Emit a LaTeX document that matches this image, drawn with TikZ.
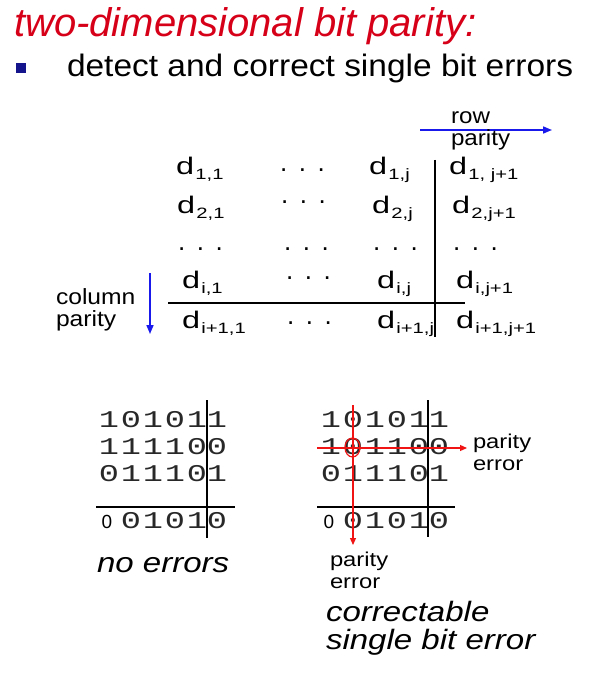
\documentclass[tikz,border=0pt]{standalone}
\usepackage{fontspec}
\setmainfont{Liberation Sans}
\newfontfamily\monof{Liberation Mono}
\usetikzlibrary{arrows.meta}

\definecolor{titlered}{RGB}{215,0,25}
\definecolor{arrowblue}{RGB}{25,25,235}
\definecolor{bulletblue}{RGB}{20,20,140}
\definecolor{errred}{RGB}{240,20,20}
\definecolor{bitgray}{RGB}{40,40,40}

\newcommand{\fs}[1]{\fontsize{#1}{#1}\selectfont}
% matrix entry d with a lowered index
\newcommand{\dsub}[1]{\scalebox{1.35}[1]{\fs{24}d\kern1pt\raisebox{-5pt}{\fs{15}#1}}}
% three spaced dots
\newcommand{\tdots}{\fs{26}.\hspace{11.5pt}.\hspace{11.5pt}.}
% one wide bit digit
\newcommand{\bx}[1]{\scalebox{1.4}[1]{#1}}
% slightly widened label text
\newcommand{\wide}[2]{\scalebox{#1}[1]{#2}}

\tikzset{
  txt/.style={anchor=base west, inner sep=0pt, outer sep=0pt},
  entry/.style={txt},
  dotgrp/.style={anchor=base west, inner sep=0pt},
  bit/.style={anchor=base, inner sep=0pt, text=bitgray, font=\monof\fs{24}},
  sansbit/.style={anchor=base, inner sep=0pt, font=\fs{19}},
  rule/.style={line width=1.6pt, black},
  blueArrow/.style={line width=1.6pt, arrowblue, -{Triangle[length=9pt,width=7pt]}},
  redArrow/.style={line width=1.2pt, errred, -{Triangle[length=7pt,width=6pt]}},
  smalllbl/.style={txt, font=\fs{20}},
  paritylbl/.style={txt, font=\fs{22}},
  caption/.style={txt, font=\fs{28}\itshape},
}

\begin{document}
\begin{tikzpicture}[x=1pt,y=-1pt]
\useasboundingbox (0,0) rectangle (613,679);

% heading and bullet
\node[txt, text=titlered, font=\fs{40}\itshape] (title) at (14,37) {two-dimensional bit parity:};
\fill[bulletblue] (16,63) rectangle (26,73);
\node[txt, font=\fs{31}] (bullet) at (67,77) {\wide{1.08}{detect and correct single bit errors}};

% general layout of data bits and parity bits
\node[entry] (d11)  at (176,175) {\dsub{1,1}};
\node[entry] (d1j)  at (369,175) {\dsub{1,j}};
\node[entry] (d1J)  at (449,175) {\dsub{1, j+1}};
\node[entry] (d21)  at (177,213) {\dsub{2,1}};
\node[entry] (d2j)  at (372,213) {\dsub{2,j}};
\node[entry] (d2J)  at (452,213) {\dsub{2,j+1}};
\node[entry] (di1)  at (182,288) {\dsub{i,1}};
\node[entry] (dij)  at (377,288) {\dsub{i,j}};
\node[entry] (diJ)  at (456,288) {\dsub{i,j+1}};
\node[entry] (dI1)  at (182,328) {\dsub{i+1,1}};
\node[entry] (dIj)  at (377,328) {\dsub{i+1,j}};
\node[entry] (dIJ)  at (456,328) {\dsub{i+1,j+1}};

\node[dotgrp] (dots1)  at (280,171.5) {\tdots};
\node[dotgrp] (dots2)  at (281,203.5) {\tdots};
\node[dotgrp] (dots3a) at (178,250.5) {\tdots};
\node[dotgrp] (dots3b) at (284,250.5) {\tdots};
\node[dotgrp] (dots3c) at (373,250.5) {\tdots};
\node[dotgrp] (dots3d) at (453,250.5) {\tdots};
\node[dotgrp] (dots4)  at (286,279.5) {\tdots};
\node[dotgrp] (dots5)  at (287,324.5) {\tdots};

\coordinate (vtop) at (435,160);
\coordinate (vbot) at (435,337);
\coordinate (hl) at (168,303);
\coordinate (hr) at (465,303);
\draw[rule] (vtop) -- (vbot);
\draw[rule] (hl) -- (hr);

% row parity arrow
\coordinate (rowA) at (420,130);
\coordinate (rowB) at (552,130);
\draw[blueArrow] (rowA) -- (rowB);
\node[paritylbl] (rowT) at (451,124) {\wide{1.1}{row}};
\node[paritylbl] (rowP) at (451,146) {\wide{1.1}{parity}};

% column parity arrow
\coordinate (colA) at (150,273);
\coordinate (colB) at (150,334);
\draw[blueArrow] (colA) -- (colB);
\node[paritylbl] (colT) at (56,304) {\wide{1.12}{column}};
\node[paritylbl] (colP) at (56,326) {\wide{1.12}{parity}};

% example without errors
\foreach \b [count=\c] in {1,0,1,0,1} \node[bit] (La-\c) at ({87+22*\c},427) {\bx{\b}};
\node[bit] (La-p) at (217,427) {\bx{1}};
\foreach \b [count=\c] in {1,1,1,1,0} \node[bit] (Lb-\c) at ({87+22*\c},454) {\bx{\b}};
\node[bit] (Lb-p) at (217,454) {\bx{0}};
\foreach \b [count=\c] in {0,1,1,1,0} \node[bit] (Lc-\c) at ({87+22*\c},481) {\bx{\b}};
\node[bit] (Lc-p) at (217,481) {\bx{1}};
\node[sansbit] (Ld-1) at (107,528) {0};
\foreach \b [count=\c from 2] in {0,1,0,1} \node[bit] (Ld-\c) at ({87+22*\c},528) {\bx{\b}};
\node[bit] (Ld-p) at (217,528) {\bx{0}};
\coordinate (Lvt) at (207,400);
\coordinate (Lvb) at (207,538);
\coordinate (Lhl) at (96,507);
\coordinate (Lhr) at (235,507);
\draw[rule] (Lvt) -- (Lvb);
\draw[rule] (Lhl) -- (Lhr);
\node[caption] (noerr) at (97,572) {\wide{1.18}{no errors}};

% example with one flipped bit
\foreach \b [count=\c] in {1,0,1,0,1} \node[bit] (Ra-\c) at ({309+22*\c},427) {\bx{\b}};
\node[bit] (Ra-p) at (439,427) {\bx{1}};
\foreach \b [count=\c] in {1,0,1,1,0} \node[bit] (Rb-\c) at ({309+22*\c},454) {\bx{\b}};
\node[bit] (Rb-p) at (439,454) {\bx{0}};
\foreach \b [count=\c] in {0,1,1,1,0} \node[bit] (Rc-\c) at ({309+22*\c},481) {\bx{\b}};
\node[bit] (Rc-p) at (439,481) {\bx{1}};
\node[sansbit] (Rd-1) at (329,528) {0};
\foreach \b [count=\c from 2] in {0,1,0,1} \node[bit] (Rd-\c) at ({309+22*\c},528) {\bx{\b}};
\node[bit] (Rd-p) at (439,528) {\bx{0}};
\coordinate (Rvt) at (428,400);
\coordinate (Rvb) at (428,537);
\coordinate (Rhl) at (317,507);
\coordinate (Rhr) at (455,507);
\draw[rule] (Rvt) -- (Rvb);
\draw[rule] (Rhl) -- (Rhr);

\coordinate (errRowA) at (317,448);
\coordinate (errRowB) at (467,448);
\coordinate (errColA) at (353,405);
\coordinate (errColB) at (353,545);
\draw[redArrow] (errRowA) -- (errRowB);
\draw[redArrow] (errColA) -- (errColB);
\draw[errred, line width=1.2pt] (352.5,447.5) ellipse [x radius=7.5, y radius=9.5];

\node[smalllbl] (perrR1) at (473,448) {\wide{1.19}{parity}};
\node[smalllbl] (perrR2) at (473,470) {\wide{1.19}{error}};
\node[smalllbl] (perrC1) at (330,566) {\wide{1.19}{parity}};
\node[smalllbl] (perrC2) at (330,588) {\wide{1.19}{error}};

\node[caption] (corr1) at (326,621) {\wide{1.18}{correctable}};
\node[caption] (corr2) at (326,649) {\wide{1.18}{single bit error}};
\end{tikzpicture}
\end{document}
